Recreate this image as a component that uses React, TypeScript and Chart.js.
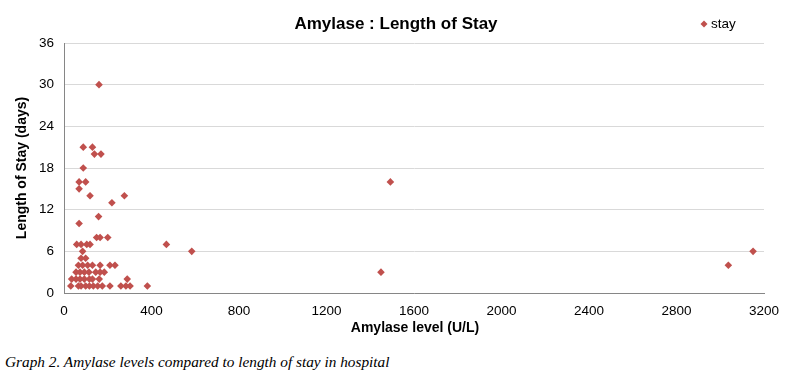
import React, { useEffect, useRef } from "react";
import { Chart, registerables } from "chart.js";

Chart.register(...registerables);

const amylase: number[] = [
  31, 66, 78, 99, 116, 134, 154, 175, 210, 260, 283, 302, 381,
  35, 55, 73, 93, 116, 130, 161, 289,
  55, 73, 93, 114, 145, 165, 184, 1449,
  66, 85, 108, 130, 165, 210, 233, 3037,
  78, 99,
  85, 584, 3150,
  58, 78, 104, 119, 468,
  149, 165, 200,
  69,
  158,
  219,
  119, 276,
  69,
  69, 99, 1492,
  88,
  139, 169,
  88, 130,
  160,
];
const stay: number[] = [
  1, 1, 1, 1, 1, 1, 1, 1, 1, 1, 1, 1, 1,
  2, 2, 2, 2, 2, 2, 2, 2,
  3, 3, 3, 3, 3, 3, 3, 3,
  4, 4, 4, 4, 4, 4, 4, 4,
  5, 5,
  6, 6, 6,
  7, 7, 7, 7, 7,
  8, 8, 8,
  10,
  11,
  13,
  14, 14,
  15,
  16, 16, 16,
  18,
  20, 20,
  21, 21,
  30,
];

const chartTitle = "Amylase : Length of Stay";
const seriesName = "stay";
const xTitle = "Amylase level (U/L)";
const yTitle = "Length of Stay (days)";
const caption = "Graph 2. Amylase levels compared to length of stay in hospital";

const RED = "#C0504D";
const FONT = "'Liberation Sans', Arial, sans-serif";

export default function App() {
  const ref = useRef<HTMLCanvasElement | null>(null);
  useEffect(() => {
    if (!ref.current) return;
    const textPlugin = {
      id: "texts",
      afterDraw(chart: any) {
        const ctx = chart.ctx;
        const area = chart.chartArea;
        ctx.save();
        ctx.fillStyle = "#000";
        ctx.textBaseline = "middle";
        // title
        ctx.font = `bold 17px ${FONT}`;
        ctx.textAlign = "center";
        ctx.fillText(chartTitle, 396, 24);
        // legend
        ctx.fillStyle = RED;
        ctx.beginPath();
        const lx = 704, ly = 24, r = 3.5;
        ctx.moveTo(lx, ly - r);
        ctx.lineTo(lx + r, ly);
        ctx.lineTo(lx, ly + r);
        ctx.lineTo(lx - r, ly);
        ctx.closePath();
        ctx.fill();
        ctx.fillStyle = "#000";
        ctx.font = `13.5px ${FONT}`;
        ctx.textAlign = "left";
        ctx.fillText(seriesName, 711, 24);
        // x title
        ctx.font = `bold 14px ${FONT}`;
        ctx.textAlign = "center";
        ctx.fillText(xTitle, 415, 328);
        // y title
        ctx.translate(22, (area.top + area.bottom) / 2);
        ctx.rotate(-Math.PI / 2);
        ctx.fillText(yTitle, 0, 0);
        ctx.restore();
      },
    };
    const chart = new Chart(ref.current, {
      type: "scatter",
      data: {
        datasets: [
          {
            label: seriesName,
            data: amylase.map((x, i) => ({ x, y: stay[i] })),
            backgroundColor: RED,
            borderColor: RED,
            pointStyle: "rectRot",
            pointRadius: 3.8,
            pointHoverRadius: 3.8,
            borderWidth: 0,
          },
        ],
      },
      options: {
        animation: false,
        responsive: false,
        maintainAspectRatio: false,
        layout: { padding: { top: 43, right: 29, bottom: 0, left: 0 } },
        plugins: {
          legend: { display: false },
          title: { display: false },
          tooltip: { enabled: false },
        },
        scales: {
          x: {
            type: "linear",
            min: 0,
            max: 3200,
            ticks: {
              stepSize: 400,
              color: "#000",
              font: { family: FONT, size: 13.5 },
              padding: 10,
              maxRotation: 0,
              callback: (v: any) => String(v),
            },
            grid: { display: false, drawTicks: false },
            border: { display: true, color: "#868686", width: 1 },
            afterFit: (s: any) => {
              s.height = 52;
            },
          },
          y: {
            type: "linear",
            min: 0,
            max: 36,
            ticks: {
              stepSize: 6,
              color: "#000",
              font: { family: FONT, size: 13.5 },
              padding: 10,
              callback: (v: any) => String(v),
            },
            grid: { color: "#D9D9D9", drawTicks: false },
            border: { display: true, color: "#868686", width: 1 },
            afterFit: (s: any) => {
              s.width = 64;
            },
          },
        },
      },
      plugins: [textPlugin],
    });
    return () => chart.destroy();
  }, []);
  return (
    <div style={{ position: "absolute", left: 0, top: 0, width: 793, height: 376, background: "#fff" }}>
      <canvas ref={ref} width={793} height={345} style={{ position: "absolute", left: 0, top: 0, width: 793, height: 345 }} />
      <div
        style={{
          position: "absolute",
          left: 5,
          top: 353,
          fontFamily: "'Liberation Serif', 'Times New Roman', serif",
          fontStyle: "italic",
          fontSize: 15.3,
          color: "#000",
          whiteSpace: "nowrap",
          lineHeight: "18px",
        }}
      >
        {caption}
      </div>
    </div>
  );
}
